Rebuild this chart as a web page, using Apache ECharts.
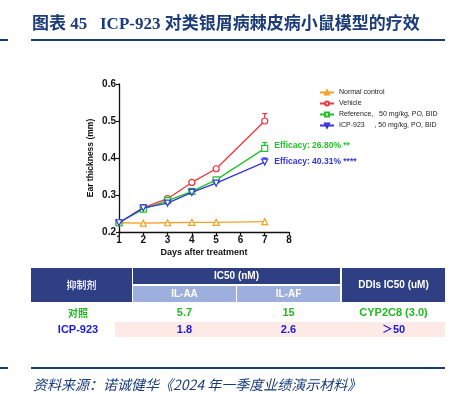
<!DOCTYPE html>
<html><head><meta charset="utf-8">
<script src="https://cdn.jsdelivr.net/npm/echarts@6/dist/echarts.min.js"></script>
<style>html,body{margin:0;padding:0;background:#fff;}#c{width:458px;height:394px;}</style>
</head><body><div id="c"></div>
<script>
const days = [1, 2, 3, 4, 5, 7];
const normalControl = [0.225, 0.224, 0.225, 0.226, 0.226, 0.228];
const vehicle = [0.225, 0.266, 0.290, 0.334, 0.371, 0.500];
const reference = [0.225, 0.262, 0.285, 0.310, 0.341, 0.426];
const icp923 = [0.225, 0.265, 0.278, 0.307, 0.332, 0.389];
const day7Errors = [0.020, 0.016, 0.011]; // vehicle, reference, icp923
const seriesNames = ['Normal control', 'Vehicle', 'Reference,   50 mg/kg, PO, BID', 'ICP-923     , 50 mg/kg, PO, BID'];
const efficacyLabels = ['Efficacy: 26.80% **', 'Efficacy: 40.31% ****'];
const yTicks = [0.2, 0.3, 0.4, 0.5, 0.6];
const xTicks = [1, 2, 3, 4, 5, 6, 7, 8];

const titleText = '图表 45   ICP-923 对类银屑病棘皮病小鼠模型的疗效';
const sourceText = '资料来源：诺诚健华《2024 年一季度业绩演示材料》';
const tableHeader1 = ['抑制剂', 'IC50 (nM)', 'DDIs IC50 (uM)'];
const tableHeader2 = ['IL-AA', 'IL-AF'];
const rowNames = ['对照', 'ICP-923'];
const rowILAA = ['5.7', '1.8'];
const rowILAF = ['15', '2.6'];
const rowDDI = ['CYP2C8 (3.0)', '＞50'];

const colors = ['#f5a02a', '#f0363c', '#22c22a', '#3434e0'];
const symbols = ['triangle', 'circle', 'rect', 'triangle'];
const rotates = [0, 0, 0, 180];
const allData = [normalControl, vehicle, reference, icp923];

const chart = echarts.init(document.getElementById('c'), null, {renderer: 'canvas'});

const lineSeries = allData.map((arr, i) => ({
  name: seriesNames[i],
  type: 'line',
  data: arr.map((v, j) => {
    const pt = {value: [days[j], v]};
    if (j === arr.length - 1 && (i === 2 || i === 3)) {
      pt.label = {
        show: true, position: 'right', distance: 6,
        formatter: efficacyLabels[i - 2],
        color: colors[i], fontSize: 8.5, fontWeight: 'bold',
        fontFamily: 'Liberation Sans, Arial', offset: [0, i === 2 ? -3 : 0]
      };
    }
    return pt;
  }),
  symbol: symbols[i], symbolRotate: rotates[i], symbolSize: 6,
  showAllSymbol: true,
  itemStyle: {color: '#fff', borderColor: colors[i], borderWidth: 1.2},
  lineStyle: {color: colors[i], width: 1.3},
  z: 3 + i
}));

const errData = [1, 2, 3].map((si, k) => [7, allData[si][5], allData[si][5] + day7Errors[k], si]);
const errSeries = {
  type: 'custom',
  silent: true,
  data: errData,
  renderItem: function (params, api) {
    const x = api.value(0), m = api.value(1), hi = api.value(2), si = api.value(3);
    const p0 = api.coord([x, m]);
    const p1 = api.coord([x, hi]);
    const c = colors[si];
    return {
      type: 'group',
      children: [
        {type: 'line', shape: {x1: p0[0], y1: p0[1], x2: p1[0], y2: p1[1]}, style: {stroke: c, lineWidth: 1.2}},
        {type: 'line', shape: {x1: p1[0] - 2.5, y1: p1[1], x2: p1[0] + 2.5, y2: p1[1]}, style: {stroke: c, lineWidth: 1.2}}
      ]
    };
  },
  z: 2
};

// table graphics
const navy = '#2e3f84';
const light = '#9dafdc';
const cols = [[31, 132], [133, 236], [237, 340], [342, 445]];
const g = [];
function rect(x, y, w, h, fill) { g.push({type: 'rect', shape: {x: x, y: y, width: w, height: h}, style: {fill: fill}, silent: true}); }
function txt(x, y, s, color, size, weight, family, align, style) {
  g.push({type: 'text', x: x, y: y, style: {text: s, fill: color, fontSize: size, fontWeight: weight || 'normal',
    fontFamily: family || 'Liberation Sans, Arial', align: align || 'center', verticalAlign: 'middle', fontStyle: style || 'normal'}, silent: true});
}
// title
txt(32, 25, titleText, '#1b3c78', 17, 'bold', 'Liberation Serif, Noto Sans CJK SC', 'left');
rect(31, 39, 414, 2, '#1b3c78');
rect(0, 39, 8, 2, '#1b3c78');
// header
rect(cols[0][0], 268, cols[0][1] - cols[0][0], 34, navy);
rect(cols[1][0], 268, cols[2][1] - cols[1][0], 16, navy);
rect(cols[1][0], 286, cols[1][1] - cols[1][0], 16, light);
rect(cols[2][0], 286, cols[2][1] - cols[2][0], 16, light);
rect(cols[3][0], 268, cols[3][1] - cols[3][0], 34, navy);
txt((cols[0][0] + cols[0][1]) / 2, 285, tableHeader1[0], '#e8e8f0', 10, 'bold', 'Noto Sans CJK SC');
txt((cols[1][0] + cols[2][1]) / 2, 276, tableHeader1[1], '#ffffff', 10, 'bold');
txt((cols[1][0] + cols[1][1]) / 2, 294, tableHeader2[0], '#ffffff', 10, 'bold');
txt((cols[2][0] + cols[2][1]) / 2, 294, tableHeader2[1], '#ffffff', 10, 'bold');
txt((cols[3][0] + cols[3][1]) / 2, 285, tableHeader1[2], '#ffffff', 10, 'bold');
// rows
rect(115, 322, 330, 15, '#fde9e6');
const rowY = [313, 330];
const rowColors = ['#22b822', '#1a1ad8'];
for (let r = 0; r < 2; r++) {
  txt(78, rowY[r], rowNames[r], rowColors[r], r === 0 ? 10 : 11, 'bold', r === 0 ? 'Noto Sans CJK SC' : 'Liberation Sans, Arial');
  txt((cols[1][0] + cols[1][1]) / 2, rowY[r], rowILAA[r], rowColors[r], 11, 'bold');
  txt((cols[2][0] + cols[2][1]) / 2, rowY[r], rowILAF[r], rowColors[r], 11, 'bold');
  txt((cols[3][0] + cols[3][1]) / 2, rowY[r], rowDDI[r], rowColors[r], 11, 'bold', 'Liberation Sans, Noto Sans CJK SC');
}
// footer
rect(31, 367, 414, 2, '#1b3c78');
rect(0, 367, 8, 2, '#1b3c78');
txt(33, 385, sourceText, '#1b3c78', 14, 'normal', 'Noto Sans CJK SC', 'left', 'italic');

chart.setOption({
  animation: false,
  backgroundColor: '#ffffff',
  grid: {left: 119, right: 169, top: 84, bottom: 162, containLabel: false},
  legend: {
    orient: 'vertical', left: 314, top: 84, itemWidth: 14, itemHeight: 5, itemGap: 4,
    data: seriesNames,
    textStyle: {fontSize: 7, color: '#222', fontFamily: 'Liberation Sans, Arial'}
  },
  xAxis: {
    type: 'value', min: 1, max: 8, interval: 1,
    name: 'Days after treatment', nameLocation: 'middle', nameGap: 16,
    nameTextStyle: {fontSize: 9, fontWeight: 'bold', color: '#111', fontFamily: 'Liberation Sans, Arial'},
    axisLine: {lineStyle: {color: '#111', width: 1.3}},
    axisTick: {show: true, length: 3, lineStyle: {color: '#111', width: 1.2}},
    axisLabel: {fontSize: 10, fontWeight: 'bold', color: '#111', margin: 3, fontFamily: 'Liberation Sans, Arial',
      formatter: v => xTicks.includes(v) ? String(v) : ''},
    splitLine: {show: false}
  },
  yAxis: {
    type: 'value', min: 0.2, max: 0.6, interval: 0.1,
    name: 'Ear thickness (mm)', nameLocation: 'middle', nameGap: 24,
    nameTextStyle: {fontSize: 8.5, fontWeight: 'bold', color: '#111', fontFamily: 'Liberation Sans, Arial'},
    axisLine: {show: true, lineStyle: {color: '#111', width: 1.3}},
    axisTick: {show: true, length: 3, lineStyle: {color: '#111', width: 1.2}},
    axisLabel: {fontSize: 10, fontWeight: 'bold', color: '#111', margin: 3, fontFamily: 'Liberation Sans, Arial',
      formatter: v => { const t = yTicks.find(k => Math.abs(k - v) < 1e-6); return t !== undefined ? t.toFixed(1) : ''; }},
    splitLine: {show: false}
  },
  series: lineSeries.concat([errSeries]),
  graphic: g
});
</script></body></html>
